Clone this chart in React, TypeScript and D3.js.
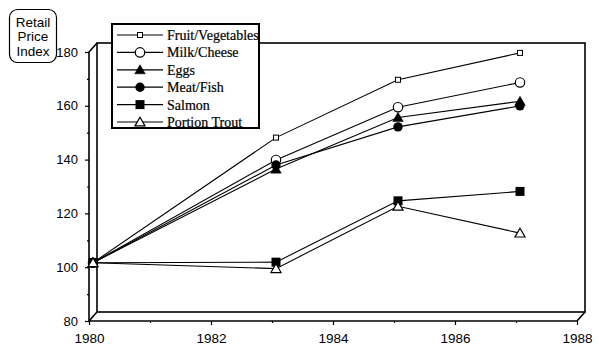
import { useEffect, useRef } from "react";
import * as d3 from "d3";

const years = [1980, 1983, 1985, 1987];
const fruitVeg = [100, 146.5, 168, 178];
const milkCheese = [100, 138.2, 157.8, 167];
const eggs = [100, 134.8, 154, 160];
const meatFish = [100, 136.3, 150.5, 158.3];
const salmon = [100, 100.2, 123, 126.5];
const portionTrout = [100, 97.8, 121, 111];

const seriesNames = ["Fruit/Vegetables", "Milk/Cheese", "Eggs", "Meat/Fish", "Salmon", "Portion Trout"];
const seriesMarkers = ["smallSquare", "openCircle", "filledTriangle", "filledCircle", "filledSquare", "openTriangle"];
const xTicks = [1980, 1982, 1984, 1986, 1988];
const yTicks = [80, 100, 120, 140, 160, 180];
const axisLabel = ["Retail", "Price", "Index"];

const W = 600;
const H = 352;

function drawMarker(g: d3.Selection<SVGGElement, unknown, null, undefined>, kind: string, x: number, y: number) {
  const m = g.append("g").attr("transform", `translate(${x},${y})`);
  if (kind === "smallSquare") {
    m.append("rect").attr("x", -2.5).attr("y", -2.5).attr("width", 5).attr("height", 5)
      .attr("fill", "white").attr("stroke", "black").attr("stroke-width", 1);
  } else if (kind === "openCircle") {
    m.append("circle").attr("r", 4.7).attr("fill", "white").attr("stroke", "black").attr("stroke-width", 1.2);
  } else if (kind === "filledCircle") {
    m.append("circle").attr("r", 4.7).attr("fill", "black");
  } else if (kind === "filledSquare") {
    m.append("rect").attr("x", -4.5).attr("y", -4.5).attr("width", 9).attr("height", 9).attr("fill", "black");
  } else {
    const tri = d3.symbol().type(d3.symbolTriangle).size(kind === "filledTriangle" ? 48 : 44);
    m.append("path").attr("d", tri()!).attr("transform", "translate(0,1)")
      .attr("fill", kind === "filledTriangle" ? "black" : "white")
      .attr("stroke", "black").attr("stroke-width", kind === "filledTriangle" ? 0.5 : 1.2);
  }
}

export default function App() {
  const svgRef = useRef<SVGSVGElement>(null);

  useEffect(() => {
    if (!svgRef.current) return;
    const svg = d3.select(svgRef.current);
    svg.selectAll("*").remove();

    const x = d3.scaleLinear().domain([1980, 1988]).range([89, 577]);
    const y = d3.scaleLinear().domain([80, 180]).range([321, 52]);
    const dx = 8;
    const dy = -9;

    const frame = svg.append("g").attr("fill", "none").attr("stroke", "black").attr("stroke-width", 1.6);
    const x0 = x(1980), x1 = x(1988), y0 = y(80), y1 = y(180);
    // back wall
    frame.append("rect").attr("x", x0 + dx).attr("y", y1 + dy)
      .attr("width", x1 - x0).attr("height", y0 - y1);
    // left wall & floor edges
    frame.append("path").attr("d",
      `M${x0},${y0}L${x0},${y1}L${x0 + dx},${y1 + dy}` +
      `M${x0},${y0}L${x0 + dx},${y0 + dy}` +
      `M${x0},${y0}L${x1},${y0}L${x1 + dx},${y0 + dy}`);

    // y axis ticks
    const yAxis = svg.append("g").attr("transform", `translate(${x0},0)`)
      .call(d3.axisLeft(y).tickValues(yTicks).tickSize(4).tickFormat(d3.format("d")));
    svg.append("g").attr("transform", `translate(${x0},0)`)
      .call(d3.axisLeft(y).tickValues(d3.range(90, 180, 20)).tickSize(2).tickFormat(() => ""))
      .call((g) => g.select(".domain").remove());
    yAxis.select(".domain").remove();
    yAxis.selectAll("text").attr("font-family", "Liberation Sans, Arial, sans-serif")
      .attr("font-size", 13).attr("fill", "black").attr("x", -11);

    const xAxis = svg.append("g").attr("transform", `translate(0,${y0})`)
      .call(d3.axisBottom(x).tickValues(xTicks).tickSize(4).tickFormat(d3.format("d")));
    svg.append("g").attr("transform", `translate(0,${y0})`)
      .call(d3.axisBottom(x).tickValues(d3.range(1981, 1988, 2)).tickSize(2).tickFormat(() => ""))
      .call((g) => g.select(".domain").remove());
    xAxis.select(".domain").remove();
    xAxis.selectAll("text").attr("font-family", "Liberation Sans, Arial, sans-serif")
      .attr("font-size", 13.5).attr("fill", "black").attr("y", 12);
    svg.selectAll(".tick line").attr("stroke", "black").attr("stroke-width", 1.2);

    // series, plotted at mid-depth
    const all = [fruitVeg, milkCheese, eggs, meatFish, salmon, portionTrout];
    const px = (yr: number) => x(yr) + dx / 2;
    const py = (v: number) => y(v) + dy / 2;
    const line = d3.line<number>().x((_, i) => px(years[i])).y((v) => py(v));
    const plot = svg.append("g");
    all.forEach((vals) => {
      plot.append("path").attr("d", line(vals)!).attr("fill", "none")
        .attr("stroke", "black").attr("stroke-width", 1.1);
    });
    all.forEach((vals, s) => {
      vals.forEach((v, i) => drawMarker(plot, seriesMarkers[s], px(years[i]), py(v)));
    });

    // legend
    const lg = svg.append("g");
    lg.append("rect").attr("x", 112).attr("y", 24).attr("width", 147).attr("height", 104)
      .attr("fill", "white").attr("stroke", "black").attr("stroke-width", 2);
    const ly = d3.scalePoint<string>().domain(seriesNames).range([35, 122]);
    seriesNames.forEach((name, i) => {
      const yy = ly(name)!;
      lg.append("line").attr("x1", 117).attr("x2", 163).attr("y1", yy).attr("y2", yy)
        .attr("stroke", "black").attr("stroke-width", 1.2);
      drawMarker(lg, seriesMarkers[i], 140, yy);
      lg.append("text").attr("x", 167).attr("y", yy).attr("dy", "0.35em")
        .attr("font-family", "Liberation Serif, Times New Roman, serif").attr("font-size", 14)
        .attr("fill", "black").attr("stroke", "black").attr("stroke-width", 0.2).text(name);
    });

    // axis title box
    const tb = svg.append("g");
    tb.append("rect").attr("x", 9.5).attr("y", 9.5).attr("width", 47).attr("height", 53).attr("rx", 8)
      .attr("fill", "white").attr("stroke", "black").attr("stroke-width", 1.2);
    axisLabel.forEach((t, i) => {
      tb.append("text").attr("x", 33).attr("y", 22 + i * 14.5).attr("dy", "0.35em")
        .attr("text-anchor", "middle").attr("font-family", "Liberation Sans, Arial, sans-serif")
        .attr("font-size", 13.5).attr("fill", "black").text(t);
    });
  }, []);

  return (
    <div style={{ position: "fixed", left: 0, top: 0, width: W, height: H, background: "white" }}>
      <svg ref={svgRef} width={W} height={H} style={{ display: "block" }} />
    </div>
  );
}
